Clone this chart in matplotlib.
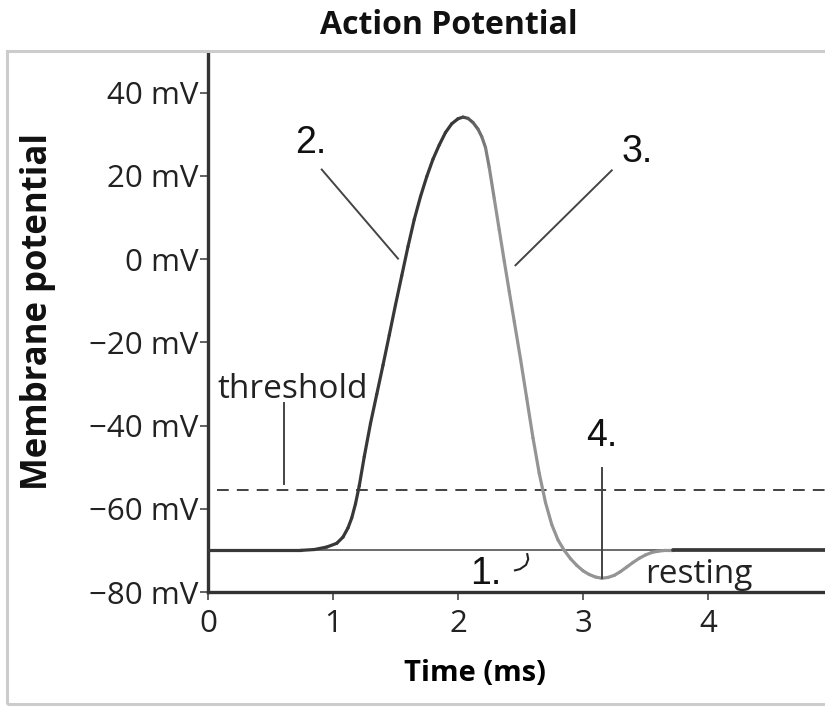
import matplotlib
matplotlib.use("Agg")
import matplotlib.pyplot as plt
import numpy as np
from matplotlib.collections import LineCollection
from matplotlib.patches import Rectangle

# membrane potential trace (ms, mV)
time_ms = [0.0, 0.74, 0.85, 0.95, 1.03, 1.08, 1.12, 1.15, 1.18, 1.21, 1.25, 1.30,
           1.35, 1.40, 1.45, 1.50, 1.55, 1.60, 1.65, 1.70, 1.75, 1.80, 1.85, 1.90,
           1.95, 2.00, 2.04, 2.08, 2.12, 2.16, 2.19, 2.22, 2.25, 2.29, 2.33, 2.37,
           2.41, 2.45, 2.50, 2.55, 2.60, 2.65, 2.70, 2.75, 2.80, 2.85, 2.90, 2.95,
           3.00, 3.05, 3.10, 3.15, 3.20, 3.25, 3.30, 3.35, 3.40, 3.45, 3.50, 3.55,
           3.60, 3.66, 3.72, 4.94]
membrane_mv = [-70.0, -70.0, -69.8, -69.2, -68.3, -66.8, -64.6, -62.2, -58.8, -54.5, -47.5, -39.5,
               -32.5, -25.5, -18.3, -11.0, -4.0, 3.0, 9.5, 15.0, 19.8, 24.0, 27.4, 30.4,
               32.5, 33.7, 34.1, 33.8, 32.8, 31.2, 29.4, 26.8, 22.0, 14.5, 7.0, -0.5,
               -7.8, -15.0, -24.0, -33.5, -43.0, -51.5, -58.5, -63.8, -67.5, -70.0, -72.0, -73.6,
               -74.9, -75.8, -76.4, -76.7, -76.5, -76.0, -75.1, -74.0, -72.9, -71.9, -71.1, -70.5,
               -70.2, -70.0, -70.0, -70.0]

resting_mv = -70
threshold_mv = -55.5
y_ticks = [-80, -60, -40, -20, 0, 20, 40]
y_tick_labels = ["\u221280 mV", "\u221260 mV", "\u221240 mV", "\u221220 mV", "0 mV", "20 mV", "40 mV"]
x_ticks = [0, 1, 2, 3, 4]

# numbered call-outs: label, text position, leader line (t0, v0, t1, v1)
callout_labels = ["2.", "3.", "4.", "1."]
callout_text_t = [0.82, 3.43, 3.15, 2.22]
callout_text_v = [27.8, 25.7, -42.5, -75.7]
callout_lines = [(0.91, 21.5, 1.52, 0.1), (3.23, 21.3, 2.46, -1.5), (3.15, -50.1, 3.15, -76.7)]
threshold_tick = (0.61, -34.5, 0.61, -54.0)
hook_t = [2.554, 2.562, 2.544, 2.496, 2.456]
hook_v = [-70.9, -72.1, -73.5, -74.5, -74.8]

SANS = ["Open Sans", "DejaVu Sans"]
ARIAL = ["Liberation Sans", "DejaVu Sans"]
DARK = "#333333"

fig = plt.figure(figsize=(8.25, 7.08), dpi=100)
ax = fig.add_axes([208 / 825, 116 / 708, 617 / 825, 539 / 708])
ax.set_xlim(0, 4.936)
ax.set_ylim(-80, 49.5)

# outer light frame
fig.patches.append(Rectangle((7 / 825, 4 / 708), 1.2, 653 / 708, transform=fig.transFigure,
                             fill=False, edgecolor="#cccccc", linewidth=2.2, zorder=0))

ax.axhline(resting_mv, color="#6a6a6a", linewidth=1.4, zorder=2)
ax.plot([0.07, 4.936], [threshold_mv] * 2, color=DARK, linewidth=1.3,
        linestyle=(0, (6.5, 4.5)), zorder=2)

t = np.array(time_ms)
v = np.array(membrane_mv)
segs = np.stack([np.column_stack([t[:-1], v[:-1]]), np.column_stack([t[1:], v[1:]])], axis=1)
mid = (t[:-1] + t[1:]) / 2
dark = np.array([0.22, 0.22, 0.22])
gray = np.array([0.58, 0.58, 0.58])
colors = []
widths = []
for m in mid:
    if m < 2.0:
        c = dark
    elif m < 2.3:
        f = (m - 2.0) / 0.3
        c = dark * (1 - f) + gray * f
    elif m < 3.7:
        c = gray
    else:
        c = dark
    colors.append(c)
    widths.append(2.7 if m > 3.7 else 2.3)
ax.add_collection(LineCollection(segs, colors=colors, linewidths=widths, capstyle="round",
                                 joinstyle="round", zorder=3))

for (t0, v0, t1, v1) in callout_lines + [threshold_tick]:
    ax.plot([t0, t1], [v0, v1], color="#444444", linewidth=1.4, zorder=4)
ax.plot(hook_t, hook_v, color="#222222", linewidth=1.5, zorder=4)

for lab, tt, vv in zip(callout_labels, callout_text_t, callout_text_v):
    ax.text(tt, vv, lab, family=ARIAL, fontsize=27, ha="center", va="center", color="#111111")
ax.text(0.08, -33.3, "threshold", family=SANS, fontsize=24, ha="left", va="baseline", color="#222222")
ax.text(3.5, -77.8, "resting", family=SANS, fontsize=24, ha="left", va="baseline", color="#222222")

for side in ["top", "right"]:
    ax.spines[side].set_visible(False)
for side in ["left", "bottom"]:
    ax.spines[side].set_linewidth(2.4)
    ax.spines[side].set_color(DARK)
ax.set_yticks(y_ticks)
ax.set_yticklabels(y_tick_labels)
ax.set_xticks(x_ticks)
ax.tick_params(axis="both", direction="out", length=6, width=1.3, color="#555555",
               labelsize=22.5, labelcolor="#222222")
ax.tick_params(axis="y", pad=1)
ax.tick_params(axis="x", pad=6)
for lab in ax.get_xticklabels() + ax.get_yticklabels():
    lab.set_family(SANS)

ax.set_xlabel("Time (ms)", family=SANS, fontsize=21, fontweight="bold")
ax.xaxis.set_label_coords(0.433, -0.125)
fig.text(38 / 825, 1 - 312 / 708, "Membrane potential", family=SANS, fontsize=25,
         fontweight="bold", rotation=90, ha="center", va="center", color="#111111")
fig.text(449 / 825, 1 - 25 / 708, "Action Potential", family=SANS, fontsize=23,
         fontweight="bold", ha="center", va="center", color="#111111")

fig.savefig("out.png", dpi=100)
